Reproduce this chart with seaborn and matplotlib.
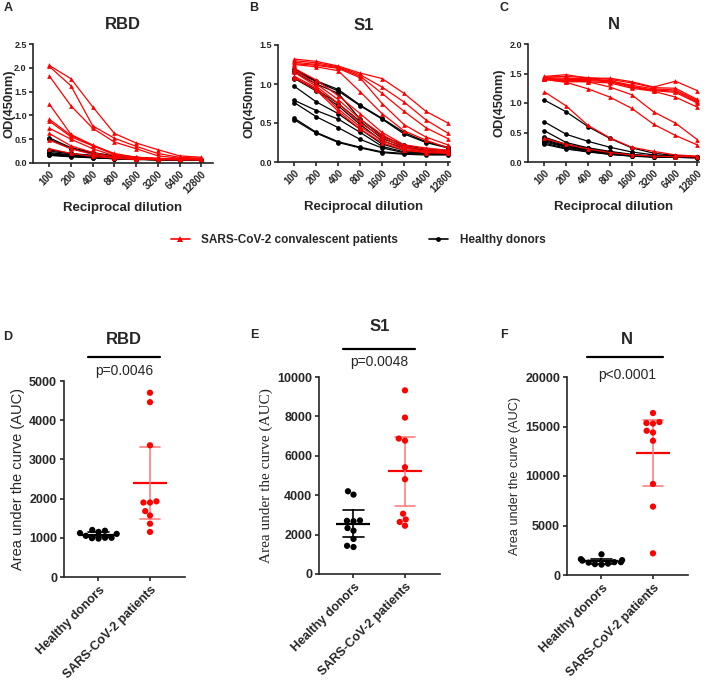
import pandas as pd
import seaborn as sns
import matplotlib.pyplot as plt
import matplotlib.transforms as mtransforms
from matplotlib.lines import Line2D

# Dilution series (top row)
dilutions = ["100", "200", "400", "800", "1600", "3200", "6400", "12800"]

rbd_patients = [
    [2.05, 1.77, 1.18, 0.62, 0.42, 0.28, 0.15, 0.12],
    [2.03, 1.62, 0.78, 0.52, 0.35, 0.20, 0.12, 0.10],
    [1.83, 1.20, 0.73, 0.44, 0.30, 0.15, 0.10, 0.08],
    [1.24, 0.60, 0.37, 0.20, 0.12, 0.10, 0.08, 0.08],
    [0.92, 0.58, 0.38, 0.18, 0.12, 0.09, 0.08, 0.08],
    [0.88, 0.55, 0.36, 0.18, 0.12, 0.09, 0.08, 0.08],
    [0.73, 0.50, 0.30, 0.15, 0.10, 0.08, 0.08, 0.07],
    [0.62, 0.36, 0.22, 0.12, 0.09, 0.08, 0.07, 0.07],
    [0.48, 0.30, 0.18, 0.10, 0.08, 0.07, 0.07, 0.07],
    [0.30, 0.20, 0.14, 0.10, 0.08, 0.07, 0.07, 0.07],
]
rbd_healthy = [
    [0.53, 0.32, 0.22, 0.15, 0.10, 0.08, 0.08, 0.07],
    [0.50, 0.30, 0.20, 0.14, 0.10, 0.08, 0.07, 0.07],
    [0.28, 0.20, 0.16, 0.12, 0.09, 0.08, 0.07, 0.07],
    [0.25, 0.19, 0.15, 0.11, 0.09, 0.07, 0.07, 0.07],
    [0.22, 0.17, 0.14, 0.11, 0.08, 0.07, 0.07, 0.07],
    [0.20, 0.16, 0.13, 0.10, 0.08, 0.07, 0.07, 0.07],
    [0.19, 0.15, 0.12, 0.10, 0.08, 0.07, 0.07, 0.07],
    [0.18, 0.15, 0.12, 0.09, 0.08, 0.07, 0.07, 0.06],
    [0.17, 0.14, 0.11, 0.09, 0.08, 0.07, 0.06, 0.06],
    [0.16, 0.13, 0.11, 0.09, 0.07, 0.07, 0.06, 0.06],
]
s1_patients = [
    [1.32, 1.29, 1.23, 1.14, 1.07, 0.88, 0.65, 0.50],
    [1.30, 1.27, 1.22, 1.12, 0.96, 0.77, 0.54, 0.37],
    [1.28, 1.25, 1.21, 1.10, 0.88, 0.65, 0.44, 0.30],
    [1.26, 1.24, 1.20, 1.08, 0.75, 0.48, 0.32, 0.22],
    [1.25, 1.22, 1.17, 0.90, 0.62, 0.40, 0.28, 0.18],
    [1.20, 1.05, 0.85, 0.62, 0.38, 0.22, 0.18, 0.15],
    [1.18, 1.00, 0.80, 0.55, 0.35, 0.20, 0.16, 0.14],
    [1.15, 0.97, 0.75, 0.50, 0.32, 0.18, 0.14, 0.13],
    [1.10, 0.95, 0.68, 0.45, 0.28, 0.16, 0.13, 0.12],
    [1.08, 0.92, 0.65, 0.42, 0.25, 0.15, 0.12, 0.11],
]
s1_healthy = [
    [1.19, 1.04, 0.93, 0.73, 0.56, 0.38, 0.26, 0.19],
    [1.17, 1.03, 0.91, 0.72, 0.55, 0.36, 0.25, 0.18],
    [1.15, 1.00, 0.88, 0.55, 0.33, 0.22, 0.16, 0.15],
    [1.08, 0.93, 0.75, 0.52, 0.30, 0.20, 0.15, 0.14],
    [1.07, 0.91, 0.72, 0.48, 0.27, 0.18, 0.14, 0.13],
    [0.97, 0.77, 0.62, 0.42, 0.23, 0.15, 0.12, 0.12],
    [0.79, 0.66, 0.55, 0.38, 0.20, 0.13, 0.12, 0.11],
    [0.76, 0.58, 0.44, 0.29, 0.18, 0.12, 0.11, 0.10],
    [0.56, 0.38, 0.26, 0.19, 0.13, 0.11, 0.10, 0.10],
    [0.54, 0.37, 0.25, 0.18, 0.12, 0.10, 0.09, 0.09],
]
n_patients = [
    [1.45, 1.48, 1.42, 1.42, 1.36, 1.27, 1.37, 1.21],
    [1.44, 1.45, 1.43, 1.40, 1.34, 1.26, 1.25, 1.06],
    [1.43, 1.42, 1.41, 1.38, 1.30, 1.24, 1.22, 1.04],
    [1.42, 1.40, 1.40, 1.37, 1.28, 1.22, 1.20, 1.02],
    [1.41, 1.38, 1.38, 1.36, 1.27, 1.21, 1.18, 1.00],
    [1.40, 1.36, 1.36, 1.34, 1.25, 1.20, 1.10, 0.93],
    [1.42, 1.38, 1.36, 1.27, 1.14, 0.85, 0.66, 0.38],
    [1.40, 1.35, 1.24, 1.10, 0.91, 0.64, 0.45, 0.29],
    [1.19, 0.95, 0.62, 0.41, 0.25, 0.18, 0.12, 0.10],
    [0.40, 0.30, 0.22, 0.16, 0.12, 0.10, 0.09, 0.09],
]
n_healthy = [
    [1.05, 0.85, 0.60, 0.40, 0.24, 0.15, 0.11, 0.09],
    [0.68, 0.47, 0.35, 0.25, 0.17, 0.12, 0.10, 0.09],
    [0.53, 0.33, 0.24, 0.18, 0.13, 0.10, 0.09, 0.08],
    [0.42, 0.30, 0.23, 0.17, 0.12, 0.10, 0.09, 0.08],
    [0.40, 0.29, 0.22, 0.16, 0.12, 0.10, 0.09, 0.08],
    [0.38, 0.27, 0.21, 0.15, 0.11, 0.09, 0.08, 0.08],
    [0.36, 0.26, 0.20, 0.15, 0.11, 0.09, 0.08, 0.08],
    [0.34, 0.25, 0.19, 0.14, 0.11, 0.09, 0.08, 0.08],
    [0.32, 0.23, 0.18, 0.13, 0.10, 0.09, 0.08, 0.07],
    [0.30, 0.22, 0.17, 0.13, 0.10, 0.08, 0.08, 0.07],
]

# Area under the curve (bottom row)
groups = ["Healthy donors", "SARS-CoV-2 patients"]
rbd_auc_healthy = [1200, 1180, 1150, 1120, 1100, 1050, 1000, 990, 1000, 980]
rbd_auc_patients = [4700, 4460, 3360, 1900, 1930, 1900, 1570, 1680, 1360, 1150]
s1_auc_healthy = [4200, 4030, 2700, 2680, 2720, 2330, 2200, 1780, 1370, 1430]
s1_auc_patients = [9320, 7940, 6875, 6770, 5420, 4810, 3060, 2770, 2640, 2450]
n_auc_healthy = [2090, 1600, 1500, 1450, 1300, 1300, 1250, 1150, 1050, 1100]
n_auc_patients = [16360, 15450, 15350, 15300, 14570, 14400, 13560, 9200, 6910, 2190]
p_values = ["p=0.0046", "p=0.0048", "p<0.0001"]

RED = "#ff0000"
PINK = "#ff8080"

sns.set_theme(style="ticks")
plt.rcParams["font.family"] = ["Liberation Sans", "DejaVu Sans"]
plt.rcParams["axes.linewidth"] = 1.2
plt.rcParams["xtick.major.width"] = 1.2
plt.rcParams["ytick.major.width"] = 1.2
plt.rcParams["xtick.major.size"] = 3
plt.rcParams["ytick.major.size"] = 3

fig = plt.figure(figsize=(7.09, 6.83), dpi=100)
W, H = 709, 683


def rect(x0, x1, ytop, ybot):
    return [x0 / W, 1 - ybot / H, (x1 - x0) / W, (ybot - ytop) / H]


def curve_frame(patients, healthy):
    rows = []
    for group, curves in (("healthy", healthy), ("patients", patients)):
        for i, curve in enumerate(curves):
            for j, od in enumerate(curve):
                rows.append({"group": group, "donor": f"{group}{i}", "step": j, "od": od})
    return pd.DataFrame(rows)


# letter, title, patients, healthy, (left, right, top, bottom) px, ymax, xmax, ylabel right edge px
top = [
    ("A", "RBD", rbd_patients, rbd_healthy, (33, 213, 44, 163), 2.5, 7.54, 15),
    ("B", "S1", s1_patients, s1_healthy, (278, 450, 45, 162), 1.5, 7.1, 256),
    ("C", "N", n_patients, n_healthy, (528, 699, 44, 162), 2.0, 7.08, 506),
]
letter_pos = {"A": (4, 8), "B": (249, 8), "C": (500, 8), "D": (3, 337), "E": (250, 335), "F": (500, 335)}

for letter, title, pats, heal, px, ymax, xmax, lab_x in top:
    ax = fig.add_axes(rect(*px))
    df = curve_frame(pats, heal)
    sns.lineplot(
        data=df, x="step", y="od", hue="group", style="group", units="donor",
        estimator=None, sort=False, hue_order=["healthy", "patients"],
        palette={"healthy": "black", "patients": RED},
        markers={"healthy": "o", "patients": "^"}, dashes=False,
        markersize=3.4, markeredgewidth=0, linewidth=0.9, legend=False, ax=ax,
    )
    ax.set_xlim(-0.75, xmax)
    ax.set_ylim(0, ymax)
    ax.set_xticks(range(len(dilutions)))
    ax.set_xticklabels(dilutions, rotation=45, ha="right", rotation_mode="anchor",
                       fontsize=7, fontweight="bold")
    yt = [i * 0.5 for i in range(int(round(ymax / 0.5)) + 1)]
    ax.set_yticks(yt)
    ax.set_yticklabels([f"{v:.1f}" for v in yt], fontsize=6.5, fontweight="bold")
    ax.tick_params(pad=1.5)
    ax.set_xlabel("Reciprocal dilution", fontsize=9.5, fontweight="bold", labelpad=5)
    ax.set_ylabel("OD(450nm)", fontsize=9.3, fontweight="bold")
    ax.yaxis.set_label_coords((lab_x - px[0]) / (px[1] - px[0]), 0.5)
    ax.set_title(title, fontsize=12, fontweight="bold", pad=11)
    sns.despine(ax=ax)

# Shared legend
handles = [
    Line2D([], [], color=RED, marker="^", markersize=4, lw=1.2, markeredgewidth=0),
    Line2D([], [], color="black", marker="o", markersize=3.5, lw=1.2, markeredgewidth=0),
]
fig.legend(handles, ["SARS-CoV-2 convalescent patients", "Healthy donors"],
           loc="center", bbox_to_anchor=(0.505, 1 - 240 / H), ncol=2, frameon=False,
           handlelength=1.6, handletextpad=1.0, columnspacing=2.6,
           prop={"weight": "bold", "size": 8.5})

bottom = [
    ("RBD", rbd_auc_healthy, rbd_auc_patients, rect(64, 185, 381, 577), 5000, 1000,
     {"family": ["Liberation Sans", "DejaVu Sans"], "size": 10.5}, (-0.2, 1.2), (1.214, 1.122, 1.05)),
    ("S1", s1_auc_healthy, s1_auc_patients, rect(319, 440, 377, 574), 10000, 2000,
     {"family": ["Liberation Serif", "DejaVu Serif"], "size": 11}, (-0.2, 1.2), (1.254, 1.142, 1.076)),
    ("N", n_auc_healthy, n_auc_patients, rect(567, 688, 377, 575), 20000, 5000,
     {"family": ["Liberation Sans", "DejaVu Sans"], "size": 9.2}, (-0.28, 1.2), (1.19, 1.10, 1.01)),
]

for k, (title, hv, pv, r, ymax, step, yfont, barx, ylev) in enumerate(bottom):
    ax = fig.add_axes(r)
    auc = pd.DataFrame({
        "group": [groups[0]] * len(hv) + [groups[1]] * len(pv),
        "auc": hv + pv,
    })
    sns.swarmplot(data=auc, x="group", y="auc", hue="group", order=groups,
                  palette={groups[0]: "black", groups[1]: RED}, size=4.5,
                  legend=False, ax=ax)
    n_before = len(ax.lines)
    # mean with 95% CI (t-based: 2.262 * SE for n=10)
    sns.pointplot(data=auc, x="group", y="auc", hue="group", order=groups,
                  palette={groups[0]: "black", groups[1]: PINK},
                  errorbar=("se", 2.262), capsize=0.4, linestyle="none",
                  marker="_", markersize=25, markeredgewidth=1.6,
                  err_kws={"linewidth": 1.2}, legend=False, ax=ax)
    for ln in ax.lines[n_before:]:
        if ln.get_marker() == "_" and ln.get_color() == PINK:
            ln.set_color(RED)
    ax.set_xlim(-0.67, 1.68)
    ax.set_ylim(0, ymax)
    ax.set_yticks(range(0, ymax + 1, step))
    ax.set_yticklabels([str(v) for v in range(0, ymax + 1, step)], fontsize=9, fontweight="bold")
    ax.set_xticks([0, 1])
    ax.set_xticklabels(groups, rotation=45, ha="right", rotation_mode="anchor",
                       fontsize=9, fontweight="bold")
    ax.tick_params(pad=2)
    ax.set_xlabel("")
    ax.set_ylabel("Area under the curve (AUC)", labelpad=3, **yfont)
    sns.despine(ax=ax)

    trans = mtransforms.blended_transform_factory(ax.transData, ax.transAxes)
    ax.plot(barx, [ylev[1], ylev[1]], color="black", lw=1.6, transform=trans, clip_on=False)
    ax.text(0.5, ylev[2], p_values[k], transform=trans, ha="center", va="center", fontsize=10)
    ax.text(0.5, ylev[0], title, transform=trans, ha="center", va="center",
            fontsize=12, fontweight="bold")

for letter, (lx, ly) in letter_pos.items():
    fig.text(lx / W, 1 - ly / H, letter, ha="left", va="center", fontsize=9, fontweight="bold")

fig.savefig("out.png", dpi=100)
